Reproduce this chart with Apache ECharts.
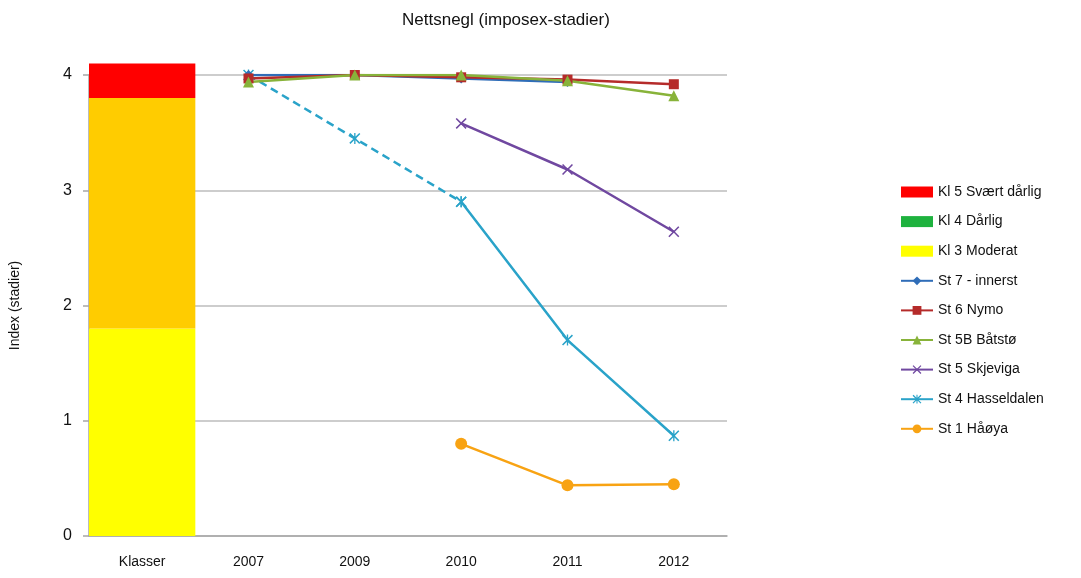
<!DOCTYPE html>
<html>
<head>
<meta charset="utf-8">
<script src="https://cdn.jsdelivr.net/npm/echarts@6/dist/echarts.min.js"></script>
<style>
  html, body { margin: 0; padding: 0; background: #fff; }
  #main { width: 1081px; height: 578px; }
</style>
</head>
<body>
<div id="main"></div>
<script>
// kategorier og verdier lest av figuren
var categories = ['Klasser', '2007', '2009', '2010', '2011', '2012'];

// klassegrenser (stablet søyle)
var kl3 = [1.8, null, null, null, null, null];
var kl4 = [2.0, null, null, null, null, null];
var kl5 = [0.3, null, null, null, null, null];

// stasjoner
var st7 = [null, 4.0, 4.0, 3.97, 3.94, null];
var st6 = [null, 3.97, 4.0, 3.98, 3.96, 3.92];
var st5b = [null, 3.94, 4.0, 4.0, 3.95, 3.82];
var st5 = [null, null, null, 3.58, 3.18, 2.64];
var st4 = [null, null, null, 2.90, 1.70, 0.87];
var st4Dashed = [null, 4.0, 3.45, 2.90, null, null];
var st1 = [null, null, null, 0.80, 0.44, 0.45];

var yTicks = [0, 1, 2, 3, 4];

var font = 'Liberation Sans, Arial, Helvetica, sans-serif';
var xMark = 'path://M0,1 L1,0 L5,4 L9,0 L10,1 L6,5 L10,9 L9,10 L5,6 L1,10 L0,9 L4,5 Z';
var starMark = 'path://M0,1 L1,0 L5,4 L9,0 L10,1 L6,5 L10,9 L9,10 L5,6 L1,10 L0,9 L4,5 Z M4.4,0 L5.6,0 L5.6,10 L4.4,10 Z';

var chart = echarts.init(document.getElementById('main'));

function lineSeries(name, data, color, symbol, size, dashed) {
    return {
        name: name,
        type: 'line',
        data: data,
        connectNulls: false,
        symbol: symbol,
        symbolSize: size,
        showAllSymbol: true,
        color: color,
        lineStyle: { color: color, width: 2.5, type: dashed ? [8, 5] : 'solid' },
        itemStyle: { color: color },
        z: 3
    };
}

function barSeries(name, data, color) {
    return {
        name: name,
        type: 'bar',
        stack: 'klasser',
        data: data,
        barWidth: '100%',
        clip: false,
        color: color,
        itemStyle: { color: color },
        z: 1
    };
}

chart.setOption({
    backgroundColor: '#fff',
    animation: false,
    title: {
        text: 'Nettsnegl (imposex-stadier)',
        left: 397,
        top: 7,
        textStyle: { fontFamily: font, fontSize: 17, fontWeight: 'normal', color: '#111' }
    },
    legend: {
        orient: 'vertical',
        left: 895,
        top: 180,
        itemWidth: 32,
        itemHeight: 11,
        itemGap: 15.6,
        textStyle: { fontFamily: font, fontSize: 14, color: '#111' },
        data: [
            { name: 'Kl 5 Svært dårlig', icon: 'rect' },
            { name: 'Kl 4 Dårlig', icon: 'rect', itemStyle: { color: '#1EB23E' } },
            { name: 'Kl 3 Moderat', icon: 'rect' },
            'St 7 - innerst', 'St 6 Nymo', 'St 5B Båtstø', 'St 5 Skjeviga', 'St 4 Hasseldalen', 'St 1 Håøya'
        ]
    },
    grid: { left: 87, right: 354, top: 75, bottom: 42 },
    xAxis: {
        type: 'category',
        data: categories,
        boundaryGap: true,
        axisLine: { lineStyle: { color: '#a6a6a6', width: 1.5 } },
        axisTick: { show: false },
        axisLabel: { fontFamily: font, fontSize: 14, color: '#111', margin: 19 }
    },
    yAxis: {
        type: 'value',
        min: yTicks[0],
        max: yTicks[yTicks.length - 1],
        interval: 1,
        name: 'Index (stadier)',
        nameLocation: 'middle',
        nameGap: 67,
        nameRotate: 90,
        nameTextStyle: { fontFamily: font, fontSize: 14, color: '#111' },
        axisLine: { show: true, lineStyle: { color: '#a6a6a6', width: 1.5 } },
        axisTick: { show: true, length: 6, lineStyle: { color: '#a6a6a6', width: 1.5 } },
        axisLabel: { fontFamily: font, fontSize: 16, color: '#111', margin: 17 },
        splitLine: { lineStyle: { color: '#bdbdbd', width: 1.5 } }
    },
    series: [
        barSeries('Kl 3 Moderat', kl3, '#FFFF00'),
        barSeries('Kl 4 Dårlig', kl4, '#FFCC00'),
        barSeries('Kl 5 Svært dårlig', kl5, '#FF0000'),
        lineSeries('St 4 Hasseldalen', st4, '#2AA3C9', starMark, 11, false),
        lineSeries('St 4 Hasseldalen', st4Dashed, '#2AA3C9', starMark, 11, true),
        lineSeries('St 7 - innerst', st7, '#2F6DB8', 'diamond', 10, false),
        lineSeries('St 6 Nymo', st6, '#B52B2A', 'rect', 10, false),
        lineSeries('St 5B Båtstø', st5b, '#88B33A', 'triangle', 11, false),
        lineSeries('St 5 Skjeviga', st5, '#7048A0', xMark, 11, false),
        lineSeries('St 1 Håøya', st1, '#F8A313', 'circle', 12, false)
    ]
});
</script>
</body>
</html>
